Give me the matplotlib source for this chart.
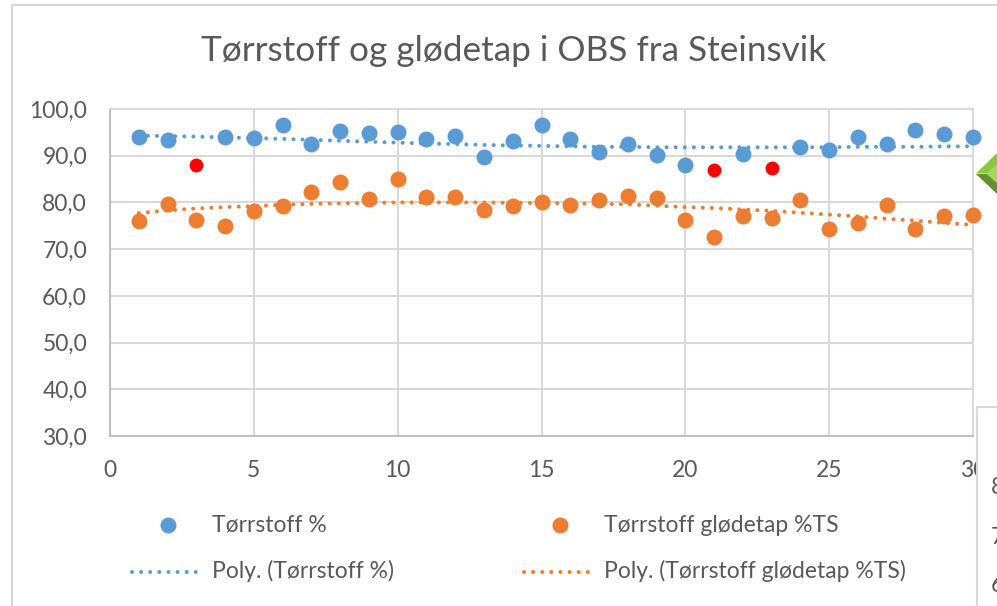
import matplotlib
matplotlib.use("Agg")
import matplotlib.pyplot as plt
from matplotlib.patches import Polygon, Rectangle

# --- Data ---
x_vals = list(range(1, 31))
ts_x = [1, 2, 4, 5, 6, 7, 8, 9, 10, 11, 12, 13, 14, 15, 16, 17, 18, 19, 20, 22, 24, 25, 26, 27, 28, 29, 30]
ts_vals = [94.0, 93.3, 94.0, 93.8, 96.5, 92.6, 95.2, 94.8, 95.1, 93.6, 94.3, 89.8, 93.2, 96.6, 93.5,
           90.7, 92.5, 90.2, 88.0, 90.4, 91.9, 91.3, 94.1, 92.6, 95.5, 94.6, 94.1]
red_x = [3, 21, 23]
red_vals = [88.0, 87.0, 87.3]
gl_vals = [76.0, 79.7, 76.2, 74.9, 78.2, 79.2, 82.2, 84.4, 80.7, 85.0, 81.1, 81.2, 78.3, 79.3, 80.0,
           79.5, 80.5, 81.3, 81.0, 76.2, 72.5, 77.2, 76.7, 80.6, 74.4, 75.6, 79.4, 74.4, 77.0, 77.3]
ts_trend = [94.3, 94.2, 94.1, 93.9, 93.8, 93.6, 93.4, 93.2, 93.0, 92.8, 92.6, 92.5, 92.3, 92.2, 92.1,
            92.0, 91.9, 91.9, 91.8, 91.8, 91.8, 91.8, 91.8, 91.8, 91.8, 91.9, 91.9, 91.9, 92.0, 92.0]
gl_trend = [77.7, 78.3, 78.7, 79.0, 79.2, 79.5, 79.7, 79.8, 79.9, 80.0, 80.0, 80.0, 80.0, 79.9, 79.9,
            79.8, 79.7, 79.6, 79.3, 79.0, 78.8, 78.5, 78.2, 77.8, 77.4, 77.0, 76.5, 76.1, 75.6, 75.2]
y_ticks = [30, 40, 50, 60, 70, 80, 90, 100]
x_ticks = [0, 5, 10, 15, 20, 25, 30]

BLUE = "#5b9bd5"
ORANGE = "#ed7d31"
GRID = "#d9d9d9"
AXIS = "#bfbfbf"
TEXT = "#595959"
W, H = 997, 606
DOTS = (0, (0.01, 2.25))

plt.rcParams["font.family"] = ["Lato", "DejaVu Sans"]
fig = plt.figure(figsize=(W / 100, H / 100), dpi=100)

def fx(px):
    return px / W

def fy(py):
    return 1 - py / H

# chart frame
fig.add_artist(plt.Line2D([fx(11.5), fx(11.5)], [fy(5), 0], color=GRID, lw=1.5))
fig.add_artist(plt.Line2D([fx(11.5), 1], [fy(5), fy(5)], color=GRID, lw=1.5))

ax = fig.add_axes([fx(110), fy(436), fx(973 - 110), fy(109) - fy(436)])
ax.set_xlim(0, 30)
ax.set_ylim(30, 100)
ax.set_xticks(x_ticks)
ax.set_yticks(y_ticks)
ax.set_yticklabels([f"{v:.1f}".replace(".", ",") for v in y_ticks])
ax.tick_params(length=0, labelsize=16.5, labelcolor=TEXT)
ax.tick_params(axis="y", pad=16.5)
ax.tick_params(axis="x", pad=17)
ax.grid(True, color=GRID, lw=1.5)
ax.set_axisbelow(True)
for s in ax.spines.values():
    s.set_color(GRID)
    s.set_linewidth(1.5)
ax.spines["left"].set_color(AXIS)
ax.spines["bottom"].set_color(AXIS)

ax.plot(x_vals, ts_trend, ls=DOTS, dash_capstyle="round", color=BLUE, lw=2.9, clip_on=False, zorder=2)
ax.plot(x_vals, gl_trend, ls=DOTS, dash_capstyle="round", color=ORANGE, lw=2.9, clip_on=False, zorder=2)
ax.plot(ts_x, ts_vals, "o", color=BLUE, ms=11.5, mew=0, clip_on=False, zorder=3)
ax.plot(x_vals, gl_vals, "o", color=ORANGE, ms=11.5, mew=0, clip_on=False, zorder=3)
ax.plot(red_x, red_vals, "o", color="#fe0000", ms=10, mew=0, clip_on=False, zorder=4)

fig.text(fx(514), fy(51), "Tørrstoff og glødetap i OBS fra Steinsvik", fontsize=25.3,
         color=TEXT, ha="center", va="center")

# legend, two rows
leg = fig.add_axes([0, 0, 1, 1], facecolor="none")
leg.set_xlim(0, W)
leg.set_ylim(H, 0)
leg.axis("off")
leg.plot([168], [525], "o", color=BLUE, ms=11.5, mew=0)
leg.plot([560], [525], "o", color=ORANGE, ms=11.5, mew=0)
leg.plot([132, 198], [572, 572], ls=DOTS, dash_capstyle="round", color=BLUE, lw=2.9)
leg.plot([524, 590], [572, 572], ls=DOTS, dash_capstyle="round", color=ORANGE, lw=2.9)
leg_kw = dict(fontsize=16.5, color=TEXT, va="center", ha="left")
leg.text(212, 525, "Tørrstoff %", **leg_kw)
leg.text(604, 525, "Tørrstoff glødetap %TS", **leg_kw)
leg.text(212, 571, "Poly. (Tørrstoff %)", **leg_kw)
leg.text(604, 571, "Poly. (Tørrstoff glødetap %TS)", **leg_kw)

# overlapping second chart and the green shape at the right edge
leg.add_patch(Rectangle((977, 407), 25, 205, fc="white", ec=GRID, lw=1.5, zorder=6))
for ty, lab in [(488, "8"), (537, "7"), (586, "6")]:
    leg.text(991, ty, lab, fontsize=16.5, color=TEXT, va="center", ha="left", zorder=7, clip_on=True)
leg.add_patch(Polygon([(976, 173.5), (997, 153), (997, 173.5)], fc="#8cc63f", ec="none", zorder=6))
leg.add_patch(Polygon([(976, 173.5), (997, 173.5), (997, 194)], fc="#66902f", ec="none", zorder=6))
leg.add_patch(Polygon([(986, 173.5), (997, 164), (997, 183)], fc="#a5d65e", ec="none", zorder=7))

fig.savefig("out.png", dpi=100)
